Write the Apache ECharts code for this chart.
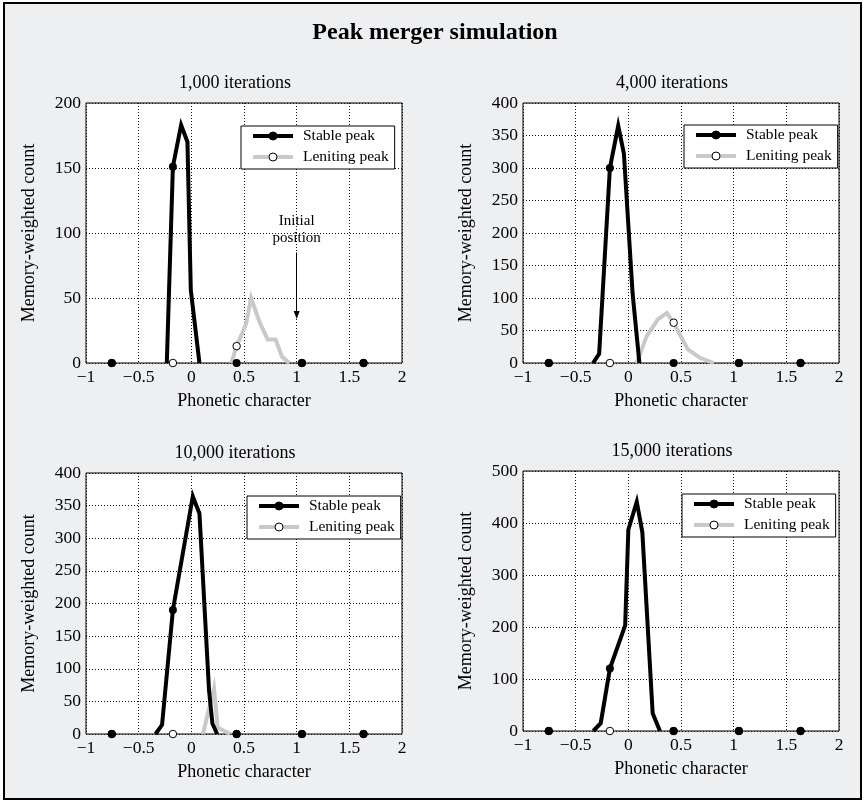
<!DOCTYPE html>
<html>
<head>
<meta charset="utf-8">
<script src="https://cdn.jsdelivr.net/npm/echarts@6/dist/echarts.min.js"></script>
<style>
  html, body { margin: 0; padding: 0; background: #fff; }
  #chart { width: 864px; height: 802px; }
</style>
</head>
<body>
<div id="chart"></div>
<script>
// 数据
const panelTitles = ['1,000 iterations', '4,000 iterations', '10,000 iterations', '15,000 iterations'];
const yMaxes = [200, 400, 400, 500];
const ySteps = [50, 50, 50, 100];
// 每 10 个点一个标记
const markX = [-0.755, -0.175, 0.43, 1.05, 1.635];

const stable1 = [[-0.755, 0], [-0.233, 0], [-0.175, 151], [-0.097, 183], [-0.037, 170], [-0.005, 56], [0.077, 0], [0.43, 0], [1.05, 0], [1.635, 0]];
const leniting1 = [[-0.755, 0], [-0.175, 0], [0.38, 0], [0.43, 13], [0.52, 30], [0.567, 50], [0.65, 31], [0.725, 18], [0.8, 18], [0.86, 5], [0.93, 0], [1.05, 0], [1.635, 0]];

const stable2 = [[-0.755, 0], [-0.335, 0], [-0.277, 14], [-0.175, 300], [-0.096, 365], [-0.042, 322], [0.04, 108], [0.105, 0], [0.43, 0], [1.05, 0], [1.635, 0]];
const leniting2 = [[-0.755, 0], [-0.175, 0], [0.08, 0], [0.173, 41], [0.28, 67], [0.365, 77], [0.43, 62], [0.565, 21], [0.68, 8], [0.81, 0], [1.05, 0], [1.635, 0]];

const stable3 = [[-0.755, 0], [-0.34, 0], [-0.278, 14], [-0.175, 190], [0.014, 364], [0.077, 338], [0.168, 67], [0.2, 16], [0.245, 0], [0.43, 0], [1.05, 0], [1.635, 0]];
const leniting3 = [[-0.755, 0], [-0.175, 0], [0.11, 0], [0.215, 70], [0.25, 10], [0.37, 0], [0.43, 0], [1.05, 0], [1.635, 0]];

const stable4 = [[-0.755, 0], [-0.333, 0], [-0.262, 15], [-0.175, 120], [-0.03, 203], [0.0, 387], [0.08, 441], [0.133, 382], [0.231, 34], [0.3, 0], [0.43, 0], [1.05, 0], [1.635, 0]];
const leniting4 = [[-0.755, 0], [-0.175, 0], [0.43, 0], [1.05, 0], [1.635, 0]];

const stableSets = [stable1, stable2, stable3, stable4];
const lenitingSets = [leniting1, leniting2, leniting3, leniting4];

// 布局
const SERIF = '"Liberation Serif", "Times New Roman", serif';
const grids = [
    { left: 86, top: 103, width: 316, height: 260 },
    { left: 523, top: 103, width: 316, height: 260 },
    { left: 86, top: 473, width: 316, height: 261 },
    { left: 523, top: 471, width: 316, height: 260 }
];
const titlePos = [[235, 83], [672, 83], [235, 453], [672, 451]];
const legendPos = [[241, 126], [684, 125], [247, 496], [682, 494]];

// 贴着 x 轴的零值段不画线，只保留标记
function buildData(points) {
    const out = [];
    points.forEach((p, i) => {
        const prev = points[i - 1];
        if (prev && prev[1] === 0 && p[1] === 0) {
            out.push({ value: [(prev[0] + p[0]) / 2, '-'], symbol: 'none' });
        }
        out.push({ value: p, symbol: markX.indexOf(p[0]) >= 0 ? 'circle' : 'none' });
    });
    return out;
}

function fmtX(v) {
    return v < 0 ? '\u2212' + (-v) : String(v);
}

const chart = echarts.init(document.getElementById('chart'), null, { renderer: 'canvas' });

const xAxis = [];
const yAxis = [];
const series = [];
const legend = [];
const graphic = [
    {
        type: 'rect',
        shape: { x: 4, y: 3, width: 857, height: 796 },
        style: { fill: '#eeeff1', stroke: '#000', lineWidth: 2 },
        z: -10
    },
    {
        type: 'text',
        x: 435,
        y: 33,
        style: {
            text: 'Peak merger simulation',
            font: 'bold 24px ' + SERIF,
            fill: '#000',
            textAlign: 'center',
            textVerticalAlign: 'middle',
            align: 'center',
            verticalAlign: 'middle'
        }
    }
];

grids.forEach((g, i) => {
    graphic.push({
        type: 'text',
        x: titlePos[i][0],
        y: titlePos[i][1],
        style: {
            text: panelTitles[i],
            font: '18px ' + SERIF,
            fill: '#000',
            textAlign: 'center',
            textVerticalAlign: 'middle',
            align: 'center',
            verticalAlign: 'middle'
        }
    });

    xAxis.push({
        type: 'value',
        gridIndex: i,
        min: -1,
        max: 2,
        interval: 0.5,
        name: 'Phonetic character',
        nameLocation: 'middle',
        nameGap: 29,
        nameTextStyle: { fontFamily: SERIF, fontSize: 18, color: '#000' },
        axisLine: { show: false },
        axisTick: { show: false },
        axisLabel: { formatter: fmtX, fontFamily: SERIF, fontSize: 17.5, color: '#000', margin: 5 },
        splitLine: { show: true, lineStyle: { color: '#111', width: 1, type: [1, 2] } }
    });
    yAxis.push({
        type: 'value',
        gridIndex: i,
        min: 0,
        max: yMaxes[i],
        interval: ySteps[i],
        name: 'Memory-weighted count',
        nameLocation: 'middle',
        nameGap: 48,
        nameRotate: 90,
        nameTextStyle: { fontFamily: SERIF, fontSize: 18, color: '#000' },
        axisLine: { show: false },
        axisTick: { show: false },
        axisLabel: { fontFamily: SERIF, fontSize: 17.5, color: '#000', margin: 5 },
        splitLine: { show: true, lineStyle: { color: '#111', width: 1, type: [1, 2] } }
    });

    const leniting = {
        name: 'Leniting peak',
        type: 'line',
        xAxisIndex: i,
        yAxisIndex: i,
        data: buildData(lenitingSets[i]),
        symbol: 'circle',
        symbolSize: 7.5,
        showSymbol: true,
        showAllSymbol: true,
        connectNulls: false,
        silent: true,
        animation: false,
        itemStyle: { color: '#fff', borderColor: '#000', borderWidth: 1 },
        lineStyle: { color: '#c9c9c9', width: 4, join: 'miter' },
        z: 3
    };
    if (i === 0) {
        // 初始位置箭头
        leniting.markLine = {
            silent: true,
            symbol: ['none', 'triangle'],
            symbolSize: 7,
            label: { show: false },
            lineStyle: { color: '#000', width: 1, type: 'solid' },
            itemStyle: { color: '#000' },
            data: [[
                { coord: [1, 85], symbol: 'none' },
                { coord: [1, 37], symbol: 'triangle', symbolSize: [6, 8], symbolRotate: 180, itemStyle: { color: '#000' } }
            ]]
        };
        leniting.markPoint = {
            silent: true,
            symbol: 'rect',
            symbolSize: 1,
            itemStyle: { color: 'rgba(0,0,0,0)' },
            label: {
                show: true,
                position: 'inside',
                formatter: 'Initial\nposition',
                fontFamily: SERIF,
                fontSize: 15,
                lineHeight: 17,
                color: '#000'
            },
            data: [{ coord: [1, 103] }]
        };
    }
    series.push(leniting);

    series.push({
        name: 'Stable peak',
        type: 'line',
        xAxisIndex: i,
        yAxisIndex: i,
        data: buildData(stableSets[i]),
        symbol: 'circle',
        symbolSize: 8,
        showSymbol: true,
        showAllSymbol: true,
        connectNulls: false,
        silent: true,
        animation: false,
        itemStyle: { color: '#000', borderColor: '#000', borderWidth: 0 },
        lineStyle: { color: '#000', width: 4, join: 'miter' },
        z: 4
    });

    legend.push({
        data: ['Stable peak', 'Leniting peak'],
        orient: 'vertical',
        left: legendPos[i][0],
        top: legendPos[i][1],
        padding: [2, 6, 4, 10],
        itemGap: 5,
        itemWidth: 40,
        itemHeight: 10,
        backgroundColor: '#fff',
        borderColor: '#000',
        borderWidth: 1,
        borderRadius: 0,
        selectedMode: false,
        lineStyle: { width: 4 },
        itemStyle: { borderWidth: 1 },
        textStyle: { fontFamily: SERIF, fontSize: 15.5, lineHeight: 16, color: '#000', padding: [0, 0, 0, 5] }
    });
});

chart.setOption({
    backgroundColor: '#fff',
    animation: false,
    graphic: graphic,
    grid: grids.map((g) => ({
        left: g.left,
        top: g.top,
        width: g.width,
        height: g.height,
        show: true,
        backgroundColor: '#fff',
        borderColor: '#000',
        borderWidth: 1
    })),
    xAxis: xAxis,
    yAxis: yAxis,
    legend: legend,
    series: series
});
</script>
</body>
</html>
